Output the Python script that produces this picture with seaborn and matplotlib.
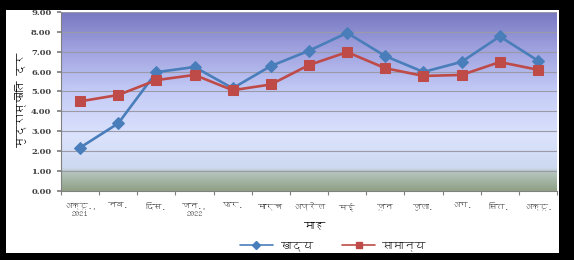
import numpy as np
import pandas as pd
import seaborn as sns
import matplotlib
matplotlib.use("Agg")
import matplotlib.pyplot as plt
from matplotlib import font_manager, ft2font
from matplotlib.colors import LinearSegmentedColormap
from matplotlib.lines import Line2D

# ---- data ----
months = ["अक्टू.,\n2021", "नव.", "दिस.", "जन.,\n2022", "फर.", "मार्च", "अप्रैल",
          "मई", "जून", "जुला.", "अग.", "सित.", "अक्टू."]
food = [2.17, 3.39, 5.97, 6.23, 5.16, 6.28, 7.05, 7.95, 6.78, 5.98, 6.49, 7.77, 6.55]
general = [4.50, 4.82, 5.57, 5.83, 5.06, 5.35, 6.33, 6.98, 6.17, 5.78, 5.83, 6.48, 6.09]
series_names = ["खाद्य", "सामान्य"]
y_ticks = [0, 1, 2, 3, 4, 5, 6, 7, 8, 9]
x_label = "माह"
y_label = "मुद्रास्फीति दर"

# ---- fonts: find something with Devanagari glyphs ----
deva = []
seen = set()
for f in font_manager.fontManager.ttflist:
    if f.name in seen:
        continue
    try:
        cm = ft2font.FT2Font(f.fname).get_charmap()
    except Exception:
        continue
    if 0x092E in cm:
        deva.append(f.name)
        seen.add(f.name)
fams = deva + ["DejaVu Sans"]

sns.set_theme(style="white")
plt.rcParams["font.family"] = fams

df = pd.DataFrame({
    "idx": list(range(len(months))) * 2,
    "value": food + general,
    "series": [series_names[0]] * len(months) + [series_names[1]] * len(months),
})

W, H = 574, 260
fig = plt.figure(figsize=(W / 100, H / 100), dpi=100, facecolor="black")
# white inner panel
fig.patches.append(plt.Rectangle((6 / W, 1 - 253 / H), (559 - 6) / W, (253 - 10) / H,
                                 transform=fig.transFigure, facecolor="white",
                                 edgecolor="none", zorder=-5))

ax = fig.add_axes([61 / W, 1 - 190.7 / H, (557 - 61) / W, (190.7 - 12) / H])
ax.set_zorder(1)
ax.set_xlim(-0.5, len(months) - 0.5)
ax.set_ylim(0, 9)

# gradient background
stops = [(0.0, (0.56, 0.63, 0.52)), (0.11, (0.72, 0.78, 0.76)), (0.125, (0.80, 0.85, 0.94)),
         (0.30, (0.86, 0.89, 0.99)), (0.55, (0.77, 0.80, 0.97)),
         (0.80, (0.62, 0.63, 0.87)), (1.0, (0.47, 0.47, 0.76))]
cmap = LinearSegmentedColormap.from_list("bg", stops)
grad = np.linspace(0, 1, 256).reshape(-1, 1)
ax.imshow(grad, aspect="auto", cmap=cmap, origin="lower",
          extent=(-0.5, len(months) - 0.5, 0, 9), zorder=0)

for y in y_ticks[1:]:
    ax.axhline(y, color="#9a9aa8", lw=0.8, zorder=1)

sns.lineplot(data=df, x="idx", y="value", hue="series", style="series",
             palette={series_names[0]: "#4a7ebb", series_names[1]: "#be4b48"},
             markers={series_names[0]: "D", series_names[1]: "s"},
             dashes=False, markersize=6.5, linewidth=1.9, ax=ax, legend=False, zorder=3)
for ln in ax.get_lines():
    c = ln.get_color()
    ln.set_markeredgecolor(c)
    if ln.get_marker() == "s":
        ln.set_markersize(7.5)

ax.set_xlabel("")
ax.set_ylabel("")
ax.set_yticks(y_ticks)
ax.set_yticklabels([f"{v:.2f}" for v in y_ticks], fontsize=6, color="#404040",
                   fontweight="bold", family=["DejaVu Serif"])
ax.set_xticks(range(len(months)))
ax.set_xticklabels(months, fontsize=6, color="#404040")
ax.set_xticks(np.arange(-0.5, len(months), 1), minor=True)
ax.tick_params(axis="x", which="major", length=0, pad=9)
ax.tick_params(axis="x", which="minor", length=3, color="#808080", width=0.8, bottom=True)
ax.tick_params(axis="y", length=3, color="#808080", left=True, pad=4)
for s in ["top", "right"]:
    ax.spines[s].set_visible(False)
ax.spines["left"].set_color("#808080")
ax.spines["bottom"].set_color("#808080")
ax.spines["left"].set_linewidth(0.8)
ax.spines["bottom"].set_linewidth(0.8)

fig.text(315 / W, 1 - 226 / H, x_label, ha="center", va="center", fontsize=8,
         fontweight="bold", color="black")
fig.text(20 / W, 1 - 100 / H, y_label, ha="center", va="center", rotation=90,
         fontsize=8, fontweight="bold", color="black")

handles = [Line2D([], [], color="#4a7ebb", marker="D", markersize=4, lw=1.2),
           Line2D([], [], color="#be4b48", marker="s", markersize=5, lw=1.2)]
fig.legend(handles, series_names, loc="center", bbox_to_anchor=(333 / W, 1 - 246 / H),
           ncol=2, frameon=False, handlelength=3.0, columnspacing=2.6, handletextpad=0.6,
           prop={"weight": "bold", "size": 8, "family": fams})

fig.savefig("out.png", dpi=100, facecolor=fig.get_facecolor())
